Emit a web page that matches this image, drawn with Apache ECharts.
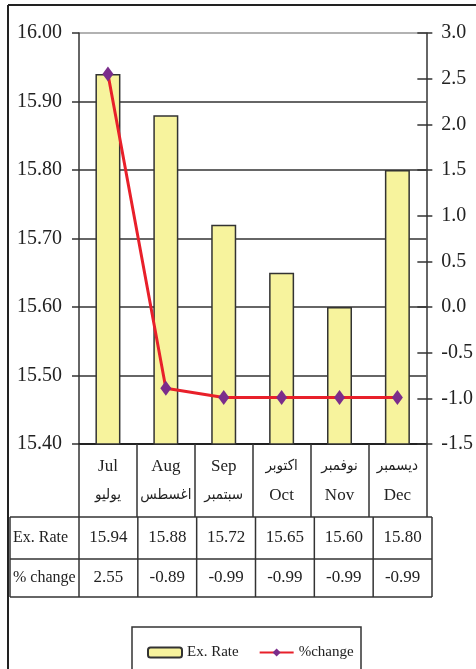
<!DOCTYPE html>
<html>
<head>
<meta charset="utf-8">
<script src="https://cdn.jsdelivr.net/npm/echarts@6/dist/echarts.min.js"></script>
<style>
  html, body { margin: 0; padding: 0; background: #ffffff; }
  #chart { width: 476px; height: 669px; }
</style>
</head>
<body>
<div id="chart"></div>
<script>
// Monthly exchange rate and its percentage change
const months = ['Jul', 'Aug', 'Sep', 'Oct', 'Nov', 'Dec'];
const monthsAr = ['يوليو', 'اغسطس', 'سبتمبر', 'اكتوبر', 'نوفمبر', 'ديسمبر'];
const arabicFirst = [false, false, false, true, true, true];
const exRate = [15.94, 15.88, 15.72, 15.65, 15.60, 15.80];
const pctChange = [2.55, -0.89, -0.99, -0.99, -0.99, -0.99];
const rowNames = ['Ex. Rate', '% change'];
const seriesNames = ['Ex. Rate', '%change'];

const FONT = "'Liberation Serif', 'DejaVu Serif', serif";
const AR_FONT = "'DejaVu Sans Condensed', 'DejaVu Sans', sans-serif";
const INK = '#222222';

// plot area
const W = 476, H = 669;
const G = { left: 79, right: 44, top: 33, bottom: 225 };
const plotRight = W - G.right;
const plotBottom = H - G.bottom;
const band = (plotRight - G.left) / months.length;

// data table below the category labels
const tableLeft = 10;
const rowLines = [517, 559, 597];

const chart = echarts.init(document.getElementById('chart'), null, { renderer: 'canvas' });

const graphics = [];
// outer frame (top and left edges)
graphics.push({ type: 'line', shape: { x1: 8, y1: 5, x2: W, y2: 5 }, style: { stroke: INK, lineWidth: 2 }, silent: true });
graphics.push({ type: 'line', shape: { x1: 8, y1: 5, x2: 8, y2: H }, style: { stroke: INK, lineWidth: 2 }, silent: true });

// table grid
rowLines.forEach(y => {
  graphics.push({ type: 'line', shape: { x1: tableLeft, y1: y, x2: plotRight, y2: y }, style: { stroke: '#333', lineWidth: 1.5 }, silent: true });
});
graphics.push({ type: 'line', shape: { x1: tableLeft, y1: rowLines[0], x2: tableLeft, y2: rowLines[2] }, style: { stroke: '#333', lineWidth: 1.5 }, silent: true });
for (let k = 0; k <= months.length; k++) {
  const x = G.left + k * band;
  graphics.push({ type: 'line', shape: { x1: x, y1: rowLines[0], x2: x, y2: rowLines[2] }, style: { stroke: '#333', lineWidth: 1.5 }, silent: true });
}
// table texts
const rows = [exRate.map(v => v.toFixed(2)), pctChange.map(v => v.toFixed(2))];
rows.forEach((vals, r) => {
  const cy = (rowLines[r] + rowLines[r + 1]) / 2;
  graphics.push({ type: 'text', x: 13, y: cy, style: { text: rowNames[r], font: '16px ' + FONT, fill: INK, textAlign: 'left', textVerticalAlign: 'middle' }, silent: true });
  vals.forEach((t, i) => {
    graphics.push({ type: 'text', x: G.left + (i + 0.5) * band, y: cy, style: { text: t, font: '17px ' + FONT, fill: INK, textAlign: 'center', textVerticalAlign: 'middle' }, silent: true });
  });
});
// legend frame
graphics.push({ type: 'rect', shape: { x: 132, y: 627, width: 229, height: 60 }, style: { fill: 'none', stroke: '#333', lineWidth: 1.5 }, silent: true });

const option = {
  animation: false,
  backgroundColor: '#ffffff',
  textStyle: { fontFamily: FONT },
  grid: { left: G.left, right: G.right, top: G.top, bottom: G.bottom, containLabel: false },
  legend: {
    data: seriesNames,
    left: 142,
    top: 640,
    itemWidth: 34,
    itemHeight: 10,
    itemGap: 20,
    textStyle: { fontFamily: FONT, fontSize: 15, color: INK },
  },
  xAxis: {
    type: 'category',
    data: months,
    boundaryGap: true,
    axisLine: { onZero: false, lineStyle: { color: INK, width: 2 } },
    axisTick: { show: true, interval: 0, length: rowLines[0] - plotBottom, lineStyle: { color: '#333', width: 1.5 } },
    axisLabel: {
      interval: 0,
      margin: 8,
      color: INK,
      formatter: (v, i) => {
        const en = '{en|' + v + '}';
        const ar = '{ar|' + monthsAr[i] + '}';
        return arabicFirst[i] ? ar + '\n' + en : en + '\n' + ar;
      },
      rich: {
        en: { fontFamily: FONT, fontSize: 17, lineHeight: 29, color: INK },
        ar: { fontFamily: AR_FONT, fontSize: 15, lineHeight: 29, color: INK },
      },
    },
  },
  yAxis: [
    {
      type: 'value', position: 'left', min: 15.4, max: 16.0, interval: 0.1,
      axisLine: { show: true, lineStyle: { color: '#333', width: 1.5 } },
      axisTick: { show: true, length: 7, lineStyle: { color: '#333', width: 1.5 } },
      axisLabel: { formatter: v => v.toFixed(2), fontFamily: FONT, fontSize: 20, color: INK, margin: 17 },
      splitLine: { show: true, lineStyle: { color: ['#333', '#333', '#333', '#333', '#333', '#333', '#999'], width: 1.5 } },
    },
    {
      type: 'value', position: 'right', min: -1.5, max: 3.0, interval: 0.5,
      axisLine: { show: true, lineStyle: { color: '#333', width: 1.5 } },
      axisTick: { show: true, length: 6, lineStyle: { color: '#333', width: 1.5 } },
      axisLabel: { formatter: v => v.toFixed(1), fontFamily: FONT, fontSize: 20, color: INK, margin: 15 },
      splitLine: { show: false },
    },
    {
      // inward half of the right-hand ticks
      type: 'value', position: 'right', min: -1.5, max: 3.0, interval: 0.5,
      axisLine: { show: false },
      axisTick: { show: true, inside: true, length: 9, lineStyle: { color: '#333', width: 1.5 } },
      axisLabel: { show: false },
      splitLine: { show: false },
    },
  ],
  series: [
    {
      name: seriesNames[0],
      type: 'bar',
      yAxisIndex: 0,
      data: exRate,
      barWidth: 25,
      itemStyle: { color: '#F7F39D', borderColor: '#333', borderWidth: 1.5 },
      z: 2,
    },
    {
      name: seriesNames[1],
      type: 'line',
      yAxisIndex: 1,
      data: pctChange,
      symbol: 'diamond',
      symbolSize: [11, 15],
      lineStyle: { color: '#E8202A', width: 3 },
      itemStyle: { color: '#7B2D8B' },
      z: 5,
    },
  ],
  graphic: graphics,
};

chart.setOption(option);
</script>
</body>
</html>
